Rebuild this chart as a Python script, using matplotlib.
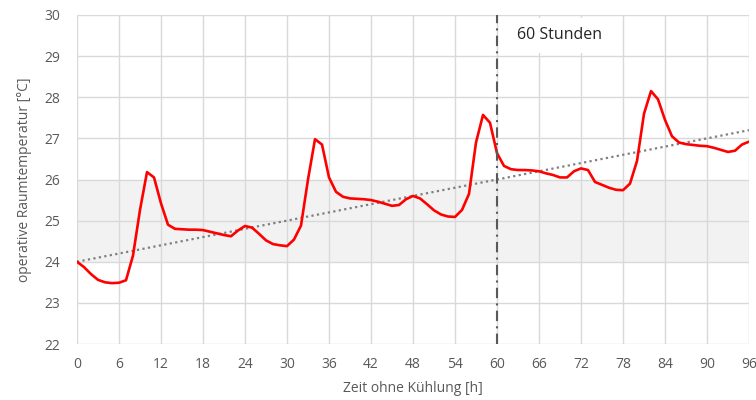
import numpy as np
import matplotlib.pyplot as plt

# hourly room temperature (0..96 h)
hours = np.arange(0, 97)
temp = [24.00, 23.87, 23.70, 23.56, 23.50, 23.48, 23.49, 23.55, 24.15, 25.26,
        26.18, 26.05, 25.42, 24.90, 24.80, 24.79, 24.78, 24.78, 24.77, 24.73,
        24.69, 24.65, 24.62, 24.76, 24.87, 24.83, 24.68, 24.52, 24.43, 24.40,
        24.38, 24.54, 24.88, 26.00, 26.98, 26.85, 26.05, 25.70, 25.58, 25.54,
        25.53, 25.52, 25.50, 25.46, 25.41, 25.36, 25.38, 25.52, 25.60, 25.54,
        25.40, 25.25, 25.15, 25.10, 25.09, 25.26, 25.65, 26.90, 27.57, 27.38,
        26.64, 26.33, 26.25, 26.23, 26.23, 26.22, 26.20, 26.15, 26.11, 26.05,
        26.05, 26.20, 26.27, 26.23, 25.94, 25.87, 25.80, 25.75, 25.74, 25.90,
        26.45, 27.60, 28.15, 27.95, 27.45, 27.05, 26.90, 26.86, 26.84, 26.82,
        26.81, 26.77, 26.72, 26.67, 26.70, 26.85, 26.92]

trend_x = [0, 96]
trend_y = [24.0, 27.2]
comfort_band = (24, 26)
marker_hour = 60
marker_text = '60 Stunden'

xticks = np.arange(0, 97, 6)
yticks = np.arange(22, 31, 1)

plt.rcParams['font.family'] = ['Open Sans', 'DejaVu Sans']

fig = plt.figure(figsize=(7.56, 4.0), dpi=100)
ax = fig.add_axes([77 / 756, 1 - 344 / 400, 672 / 756, 329 / 400])

grid_c = '#d9d9d9'
ax.axhspan(comfort_band[0], comfort_band[1], color='#f2f2f2', zorder=0, lw=0)
for y in yticks:
    ax.axhline(y, color=grid_c, lw=1.0, zorder=1)
for x in xticks:
    ax.axvline(x, color=grid_c, lw=1.0, zorder=1)

ax.plot(trend_x, trend_y, color='#7f7f7f', lw=1.6, linestyle=(0, (1, 1.5)), zorder=3)
ax.plot(hours, temp, color='#ff0000', lw=1.9, zorder=4,
        solid_joinstyle='round', solid_capstyle='round')
ax.axvline(marker_hour, color='#595959', lw=1.5,
           linestyle=(0, (5, 2.5, 1, 2.5)), zorder=5)

ax.text(62.9, 29.51, marker_text, fontsize=11.5, color='#262626',
        ha='left', va='center', zorder=6,
        bbox=dict(boxstyle='square,pad=0.6', fc='white', ec='none'))

ax.set_xlim(0, 96)
ax.set_ylim(22, 30)
ax.set_xticks(xticks)
ax.set_yticks(yticks)
for s in ax.spines.values():
    s.set_visible(False)
ax.tick_params(length=0, labelsize=10, colors='#595959', pad=9)
ax.tick_params(axis='y', pad=12)

ax.set_xlabel('Zeit ohne Kühlung [h]', fontsize=10, color='#595959', labelpad=7)
ax.set_ylabel('operative Raumtemperatur [°C]', fontsize=10, color='#595959', labelpad=9)

fig.savefig('out.png', dpi=100)
